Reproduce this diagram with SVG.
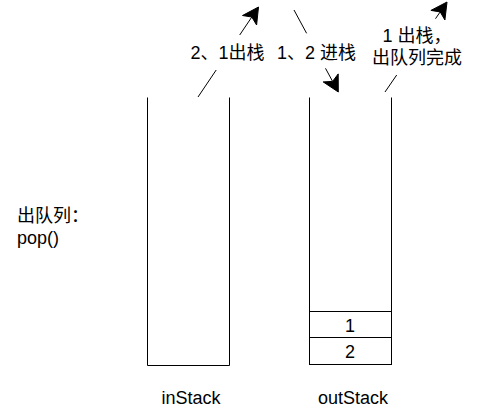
<svg xmlns="http://www.w3.org/2000/svg" width="489" height="419" viewBox="0 0 489 419">
<style>
.t{font-family:"Liberation Sans","Noto Sans CJK SC",sans-serif;font-size:18px;fill:#000}
.m{text-anchor:middle}
.s{fill:none;stroke:#000;stroke-width:1}
.c{fill:#fff;stroke:#000;stroke-width:1}
.h{fill:#000;stroke:#000;stroke-width:1;stroke-linejoin:miter}
</style>
<rect width="489" height="419" fill="#fff"/>
<g id="inStack">
<path class="s" d="M147.5,97.5 V365.5 H229.5 V97.5"/>
<text class="t m" x="191" y="404">inStack</text>
</g>
<g id="outStack">
<path class="s" d="M309.5,97.5 V364.5 H391.5 V97.5"/>
<text class="t m" x="353" y="404">outStack</text>
</g>
<g id="cell1">
<rect class="c" x="309.5" y="311.5" width="82" height="26"/>
<text class="t m" x="350" y="331.5">1</text>
</g>
<g id="cell2">
<rect class="c" x="309.5" y="337.5" width="82" height="27"/>
<text class="t m" x="350" y="358">2</text>
</g>
<g id="dequeue-label">
<text class="t" x="17" y="221.5">出队列：</text>
<text class="t" x="17" y="243.5">pop()</text>
</g>
<g id="connectors">
<g id="edge-pop-in">
<path class="s" d="M198,97 L216.2,70 M239.7,35 L251.8,17"/>
<path class="h" d="M258.5,7 L256.6,25 L251.8,17 L242.5,15.5 Z"/>
</g>
<g id="edge-push-out">
<path class="s" d="M294,10 L306.6,33.3 M325.5,68.3 L332.6,81.4"/>
<path class="h" d="M338.3,92 L323.2,81.9 L332.6,81.4 L338.2,73.9 Z"/>
</g>
<g id="edge-pop-out">
<path class="s" d="M385,92 L396.7,75 M435.5,18.7 L440.2,11.9"/>
<path class="h" d="M447,2 L444.9,20 L440.2,11.9 L430.9,10.4 Z"/>
</g>
</g>
<g id="labels">
<text class="t m" x="227.5" y="58.5">2、1出栈</text>
<text class="t m" x="316.5" y="58.5">1、2 进栈</text>
<text class="t m" x="417" y="41.5">1 出栈，</text>
<text class="t m" x="417" y="63.5">出队列完成</text>
</g>
</svg>
